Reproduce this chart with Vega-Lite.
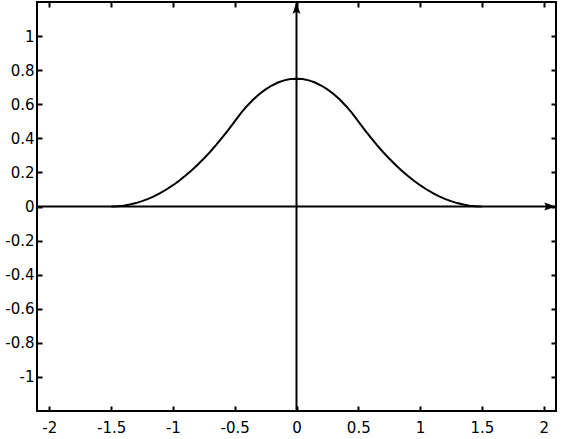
{
  "$schema": "https://vega.github.io/schema/vega-lite/v6.json",
  "width": 519,
  "height": 409,
  "autosize": {"type": "none"},
  "padding": {"left": 37, "top": 2, "right": 11, "bottom": 28},
  "background": "white",
  "config": {
    "view": {"stroke": "black", "strokeWidth": 2},
    "axis": {
      "grid": false,
      "domain": false,
      "ticks": true,
      "tickSize": -5,
      "tickWidth": 2,
      "tickColor": "black",
      "labelFont": "DejaVu Sans",
      "labelFontSize": 15,
      "labelColor": "black",
      "title": null
    }
  },
  "datasets": {
    "curve": [
      {"x": -1.5, "y": 0}, {"x": -1.45, "y": 0.00125}, {"x": -1.4, "y": 0.005}, {"x": -1.35, "y": 0.01125},
      {"x": -1.3, "y": 0.02}, {"x": -1.25, "y": 0.03125}, {"x": -1.2, "y": 0.045}, {"x": -1.15, "y": 0.06125},
      {"x": -1.1, "y": 0.08}, {"x": -1.05, "y": 0.10125}, {"x": -1.0, "y": 0.125}, {"x": -0.95, "y": 0.15125},
      {"x": -0.9, "y": 0.18}, {"x": -0.85, "y": 0.21125}, {"x": -0.8, "y": 0.245}, {"x": -0.75, "y": 0.28125},
      {"x": -0.7, "y": 0.32}, {"x": -0.65, "y": 0.36125}, {"x": -0.6, "y": 0.405}, {"x": -0.55, "y": 0.45125},
      {"x": -0.5, "y": 0.5}, {"x": -0.45, "y": 0.5475}, {"x": -0.4, "y": 0.59}, {"x": -0.35, "y": 0.6275},
      {"x": -0.3, "y": 0.66}, {"x": -0.25, "y": 0.6875}, {"x": -0.2, "y": 0.71}, {"x": -0.15, "y": 0.7275},
      {"x": -0.1, "y": 0.74}, {"x": -0.05, "y": 0.7475}, {"x": 0, "y": 0.75},
      {"x": 0.05, "y": 0.7475}, {"x": 0.1, "y": 0.74}, {"x": 0.15, "y": 0.7275}, {"x": 0.2, "y": 0.71},
      {"x": 0.25, "y": 0.6875}, {"x": 0.3, "y": 0.66}, {"x": 0.35, "y": 0.6275}, {"x": 0.4, "y": 0.59},
      {"x": 0.45, "y": 0.5475}, {"x": 0.5, "y": 0.5}, {"x": 0.55, "y": 0.45125}, {"x": 0.6, "y": 0.405},
      {"x": 0.65, "y": 0.36125}, {"x": 0.7, "y": 0.32}, {"x": 0.75, "y": 0.28125}, {"x": 0.8, "y": 0.245},
      {"x": 0.85, "y": 0.21125}, {"x": 0.9, "y": 0.18}, {"x": 0.95, "y": 0.15125}, {"x": 1.0, "y": 0.125},
      {"x": 1.05, "y": 0.10125}, {"x": 1.1, "y": 0.08}, {"x": 1.15, "y": 0.06125}, {"x": 1.2, "y": 0.045},
      {"x": 1.25, "y": 0.03125}, {"x": 1.3, "y": 0.02}, {"x": 1.35, "y": 0.01125}, {"x": 1.4, "y": 0.005},
      {"x": 1.45, "y": 0.00125}, {"x": 1.5, "y": 0}
    ],
    "haxis": [{"xa": -2.1, "xb": 2.1, "y": 0}],
    "vaxis": [{"x": 0, "ya": -1.2, "yb": 1.2}],
    "uparrow": [{"x": 0, "y": 1.162}],
    "rightarrow": [{"x": 2.047, "y": 0}]
  },
  "layer": [
    {
      "data": {"name": "curve"},
      "mark": {"type": "line", "color": "black", "strokeWidth": 2},
      "encoding": {
        "x": {"field": "x", "type": "quantitative",
              "scale": {"domain": [-2.1, 2.1], "nice": false, "zero": false},
              "axis": {"orient": "bottom", "values": [-2, -1.5, -1, -0.5, 0, 0.5, 1, 1.5, 2],
                       "labelExpr": "datum.value + ''", "labelPadding": 14}},
        "y": {"field": "y", "type": "quantitative",
              "scale": {"domain": [-1.2, 1.2], "nice": false, "zero": false},
              "axis": {"orient": "left", "values": [-1, -0.8, -0.6, -0.4, -0.2, 0, 0.2, 0.4, 0.6, 0.8, 1],
                       "labelExpr": "datum.value + ''", "labelPadding": 8}}
      }
    },
    {
      "data": {"name": "haxis"},
      "mark": {"type": "rule", "color": "black", "strokeWidth": 2},
      "encoding": {
        "x": {"field": "xa", "type": "quantitative",
              "scale": {"domain": [-2.1, 2.1], "nice": false, "zero": false},
              "axis": {"orient": "top", "labels": false, "values": [-2, -1.5, -1, -0.5, 0, 0.5, 1, 1.5, 2]}},
        "x2": {"field": "xb"},
        "y": {"field": "y", "type": "quantitative",
              "scale": {"domain": [-1.2, 1.2], "nice": false, "zero": false},
              "axis": {"orient": "right", "labels": false, "values": [-1, -0.8, -0.6, -0.4, -0.2, 0, 0.2, 0.4, 0.6, 0.8, 1]}}
      }
    },
    {
      "data": {"name": "vaxis"},
      "mark": {"type": "rule", "color": "black", "strokeWidth": 2},
      "encoding": {
        "x": {"field": "x", "type": "quantitative", "axis": null},
        "y": {"field": "ya", "type": "quantitative", "axis": null},
        "y2": {"field": "yb"}
      }
    },
    {
      "data": {"name": "uparrow"},
      "mark": {"type": "point", "filled": true, "color": "black", "opacity": 1, "size": 169,
               "shape": "M0,-1 L0.6,0.8 L0,0.5 L-0.6,0.8 Z"},
      "encoding": {
        "x": {"field": "x", "type": "quantitative", "axis": null},
        "y": {"field": "y", "type": "quantitative", "axis": null}
      }
    },
    {
      "data": {"name": "rightarrow"},
      "mark": {"type": "point", "filled": true, "color": "black", "opacity": 1, "size": 169,
               "shape": "M1,0 L-0.8,-0.6 L-0.5,0 L-0.8,0.6 Z"},
      "encoding": {
        "x": {"field": "x", "type": "quantitative", "axis": null},
        "y": {"field": "y", "type": "quantitative", "axis": null}
      }
    }
  ],
  "resolve": {"axis": {"x": "independent", "y": "independent"}}
}
